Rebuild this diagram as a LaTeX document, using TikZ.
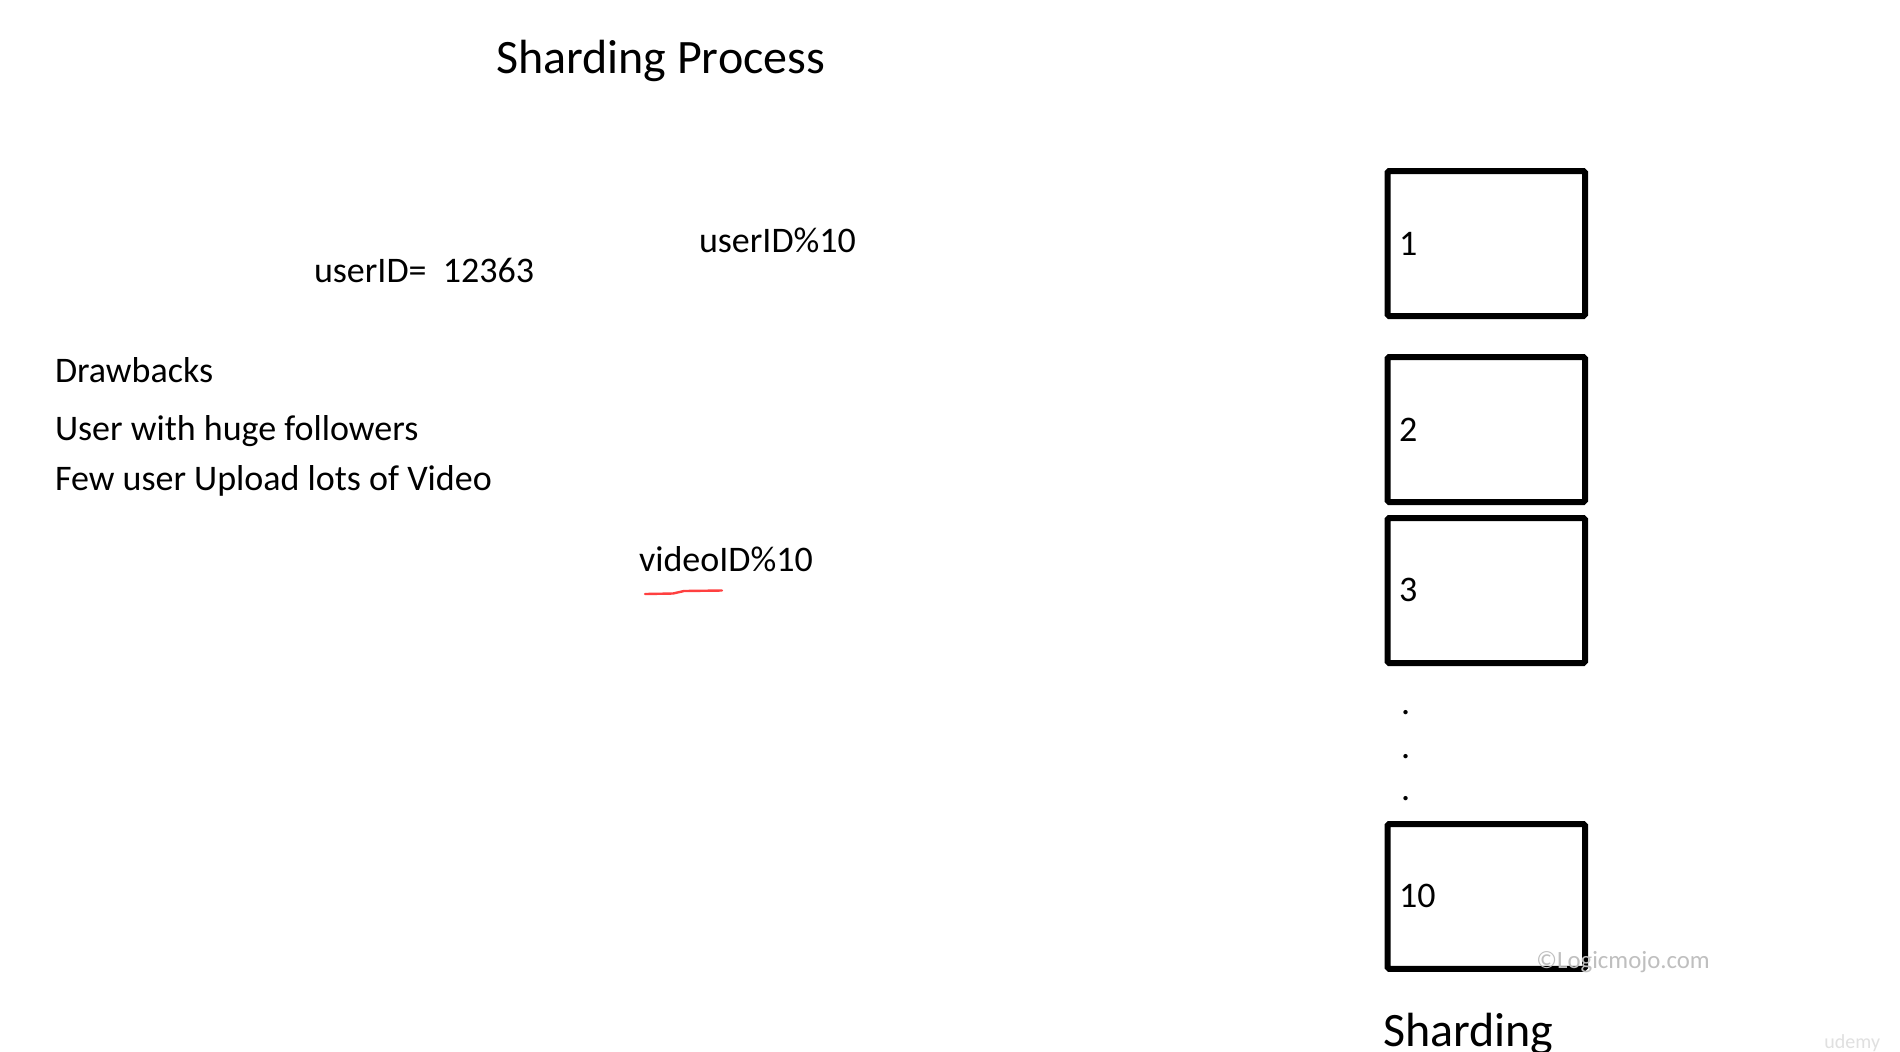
\documentclass[tikz,border=0pt]{standalone}
\usepackage{fontspec}
\setmainfont{Carlito}
\begin{document}
\begin{tikzpicture}[x=0.5pt,y=-0.5pt,
  txt/.style={anchor=base west, inner sep=0pt, outer sep=0pt, font=\fontsize{18pt}{20pt}\selectfont},
  big/.style={anchor=base west, inner sep=0pt, outer sep=0pt, font=\fontsize{24pt}{27pt}\selectfont},
  shard/.style={draw, line width=3pt, rounded corners=0.8pt, anchor=north west, inner sep=0pt, outer sep=0pt, minimum width=98.75pt},
  wm/.style={anchor=base west, inner sep=0pt, text=black!25}
]
\fill[white] (0,0) rectangle (1900,1051);
\useasboundingbox (0,0) rectangle (1900,1051);

\node[big] (title) at (496,73) {Sharding Process};
\node[txt] (mod) at (699,252) {userID\%10};
\node[txt] (uid) at (314,282) {userID=\ \ 12363};
\node[txt] (draw) at (55,382) {Drawbacks};
\node[txt] (d1) at (55,440) {User with huge followers};
\node[txt] (d2) at (55,490) {Few user Upload lots of Video};
\node[txt] (vmod) at (639,571) {videoID\%10};
\draw[red!75!white, line width=1.2pt, line cap=round] (645,594) -- (673,593.5) -- (684,591) -- (722,590.5);

\node[shard, minimum height=72.5pt] (s1) at (1387.5,171) {};
\node[shard, minimum height=72.5pt] (s2) at (1387.5,357) {};
\node[shard, minimum height=72.5pt] (s3) at (1387.5,518) {};
\node[shard, minimum height=72.4pt] (s10) at (1387.5,824) {};
\node[txt] (l1) at (1399,255) {1};
\node[txt] (l2) at (1399,441) {2};
\node[txt] (l3) at (1399,601) {3};
\node[txt] (l10) at (1399,907) {10};
\node[txt] (p1) at (1401,714) {.};
\node[txt] (p2) at (1401,758) {.};
\node[txt] (p3) at (1401,800) {.};

\node[big] (shd) at (1383,1046) {Sharding};
\node[wm, font=\fontsize{12.4pt}{14pt}\selectfont] (wm1) at (1536,968) {©Logicmojo.com};
\node[wm, text=black!12, font=\fontsize{10pt}{12pt}\selectfont] (wm2) at (1824,1048) {udemy};
\end{tikzpicture}
\end{document}
